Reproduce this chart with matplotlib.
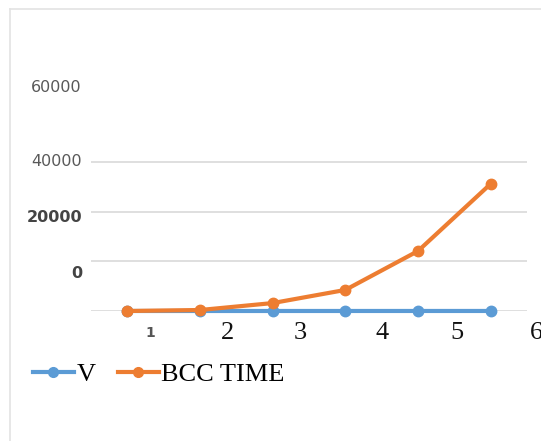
import matplotlib.pyplot as plt
from matplotlib.lines import Line2D

# data
runs = [1, 2, 3, 4, 5, 6]
v_values = [1, 2, 3, 4, 5, 6]
bcc_time = [0, 200, 1600, 4250, 12100, 25650]
grid_levels = [0, 10000, 20000, 30000]

# the printed labels do not line up with the grid in the original
x_labels = ['1', '2', '3', '4', '5', '6']
y_labels = ['60000', '40000', '20000', '0']

BLUE = '#5B9BD5'
ORANGE = '#ED7D31'
W, H = 541, 441


def px(x, y):
    # pixel position (from top left) -> figure fraction
    return x / W, 1 - y / H


fig = plt.figure(figsize=(W / 100, H / 100), dpi=100)
ax = fig.add_axes([91 / W, 1 - 311 / H, 436 / W, 228 / H])

ax.plot(runs, v_values, color=BLUE, lw=3, marker='o', ms=7.5, clip_on=False, zorder=3, label='V')
ax.plot(runs, bcc_time, color=ORANGE, lw=3, marker='o', ms=7.5, clip_on=False, zorder=4, label='BCC TIME')

ax.set_xlim(0.5, 6.5)
ax.set_ylim(0, 46000)
ax.set_yticks(grid_levels)
ax.set_xticks([])
ax.set_yticklabels([])
ax.tick_params(left=False)
ax.grid(axis='y', color='#d9d9d9', lw=1.2)
ax.set_axisbelow(True)
for s in ax.spines.values():
    s.set_visible(False)

# y labels, placed where they sit in the original
y_pos = [88, 161, 217, 274]
y_bold = [False, False, True, True]
for lab, yp, b in zip(y_labels, y_pos, y_bold):
    fig.text(*px(82, yp), lab, ha='right', va='center', fontsize=11.5,
             color='#444444' if b else '#595959', fontweight='bold' if b else 'normal')

# x labels, also shifted like the original (the 6 is cut by the edge there too)
x_pos = [150, 227, 300, 382, 457, 536]
for i, (lab, xp) in enumerate(zip(x_labels, x_pos)):
    if i == 0:
        fig.text(*px(xp, 333), lab, ha='center', va='center', fontsize=10,
                 fontweight='bold', color='#555555')
    else:
        fig.text(*px(xp, 333), lab, ha='center', va='center', fontsize=19,
                 family='Liberation Serif', color='#111111')

handles = [Line2D([], [], color=BLUE, lw=3, marker='o', ms=7),
           Line2D([], [], color=ORANGE, lw=3, marker='o', ms=7)]
fig.legend(handles, ['V', 'BCC TIME'], loc='center left', bbox_to_anchor=px(9, 374),
           ncol=2, frameon=False, numpoints=1, handlelength=1.55, handletextpad=0.1,
           columnspacing=0.85, prop={'family': 'Liberation Serif', 'size': 19})

# light frame at top and left
fig.add_artist(Line2D([10 / W, 10 / W], [0, 1 - 9 / H], color='#e3e3e3', lw=1.2))
fig.add_artist(Line2D([10 / W, 1], [1 - 9 / H, 1 - 9 / H], color='#e3e3e3', lw=1.2))

fig.savefig('out.png', dpi=100)
